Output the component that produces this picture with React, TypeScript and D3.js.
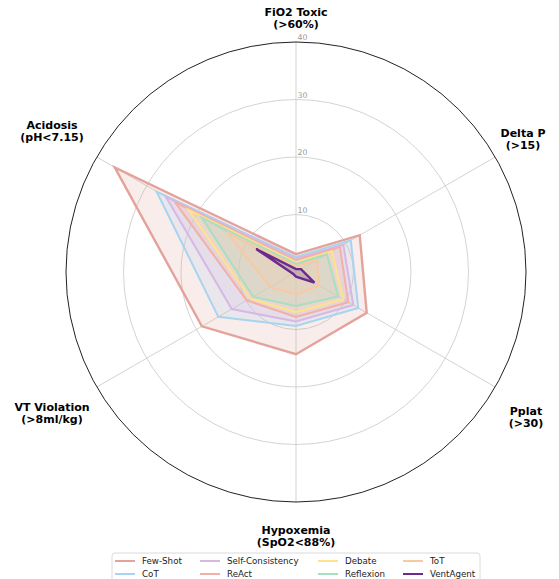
import React from "react";
import * as d3 from "d3";

const axes = [
  ["FiO2 Toxic", "(>60%)"],
  ["Delta P", "(>15)"],
  ["Pplat", "(>30)"],
  ["Hypoxemia", "(SpO2<88%)"],
  ["VT Violation", "(>8ml/kg)"],
  ["Acidosis", "(pH<7.15)"],
];
const ticks = [10, 20, 30, 40];
const seriesNames = ["Few-Shot", "CoT", "Self-Consistency", "ReAct", "Debate", "Reflexion", "ToT", "VentAgent"];
const seriesColors = ["#e3a39b", "#a9d4ef", "#d6b8e4", "#f2b0a6", "#fde38c", "#a6dfc1", "#f8c9a2", "#6a2a8e"];
const fewShot = [3.1, 12.8, 14.2, 14.3, 18.9, 36.4];
const cot = [2.6, 11.0, 12.5, 9.4, 15.6, 28.0];
const selfConsistency = [2.3, 9.5, 11.5, 8.6, 12.9, 26.1];
const react = [2.0, 8.8, 10.5, 7.8, 9.9, 24.3];
const debate = [1.7, 7.2, 9.5, 7.0, 9.2, 21.6];
const reflexion = [1.4, 6.2, 8.5, 5.9, 8.6, 18.9];
const tot = [1.0, 4.2, 4.7, 3.9, 5.2, 13.9];
const ventAgent = [0.5, 1.0, 3.7, 0.8, 0.6, 8.0];
const seriesValues = [fewShot, cot, selfConsistency, react, debate, reflexion, tot, ventAgent];

export default function App() {
  const W = 559, H = 579;
  const cx = 296, cy = 272;
  const R = 230;
  const r = d3.scaleLinear().domain([0, 40]).range([0, R]);
  const angle = d3.scaleLinear().domain([0, axes.length]).range([0, 2 * Math.PI]);
  const line = d3
    .lineRadial<number>()
    .angle((_, i) => angle(i))
    .radius((v) => r(v))
    .curve(d3.curveLinearClosed);
  const font = "DejaVu Sans, sans-serif";
  const fs = 11;
  const lh = 12;
  // horizontal / vertical label distances from the centre, by side
  const labelDX = (s: number) => (s > 0.1 ? 227 + (s > 0 ? 0 : 0) : s < -0.1 ? -244 : 0);
  const labelFirstLineY = (i: number, c: number) => {
    if (c > 0.9) return -260;
    if (c < -0.9) return 258;
    if (c > 0) return -139 - (Math.sin(angle(i)) < 0 ? 8 : 0) ;
    return 135 + (Math.sin(angle(i)) > 0 ? 4 : 0);
  };

  return (
    <svg width={W} height={H} style={{ position: "absolute", left: 0, top: 0 }} fontFamily={font}>
      <rect width={W} height={H} fill="#fff" />
      <g transform={`translate(${cx},${cy})`}>
        {ticks.slice(0, -1).map((t) => (
          <circle key={t} r={r(t)} fill="none" stroke="#c8c8c8" strokeWidth={0.8} />
        ))}
        {axes.map((_, i) => {
          const a = angle(i);
          return (
            <line key={i} x1={0} y1={0} x2={R * Math.sin(a)} y2={-R * Math.cos(a)} stroke="#c8c8c8" strokeWidth={0.8} />
          );
        })}
        <circle r={R} fill="none" stroke="#222" strokeWidth={1} />
        {seriesValues.map((vals, k) => (
          <path
            key={k}
            d={line(vals) || ""}
            fill={seriesColors[k]}
            fillOpacity={0.2}
            stroke={seriesColors[k]}
            strokeWidth={k === 0 || k === 7 ? 2.4 : 2}
            strokeLinejoin="miter"
          />
        ))}
        {ticks.map((t) => (
          <text key={t} x={1.5} y={-r(t) - 2} fontSize={7.8} fill="#999">
            {t}
          </text>
        ))}
        {axes.map((lab, i) => {
          const a = angle(i);
          const s = Math.sin(a), c = Math.cos(a);
          const bx = labelDX(s) + (i === 2 ? 3 : 0);
          const y1 = labelFirstLineY(i, c);
          return (
            <text key={i} textAnchor="middle" fontSize={fs} fontWeight="bold" fill="#000">
              {lab.map((l, j) => (
                <tspan key={j} x={bx} y={y1 + lh * j + 4}>
                  {l}
                </tspan>
              ))}
            </text>
          );
        })}
      </g>
      <g>
        <rect x={112} y={553} width={368} height={40} rx={3} fill="#fff" fillOpacity={0.8} stroke="#d0d0d0" strokeWidth={0.8} />
        {seriesNames.map((n, k) => {
          const colX = [115, 200, 318, 403][Math.floor(k / 2)];
          const rowY = [561, 574][k % 2];
          return (
            <g key={n}>
              <line x1={colX} x2={colX + 20} y1={rowY} y2={rowY} stroke={seriesColors[k]} strokeWidth={2} />
              <text x={colX + 27} y={rowY + 3} fontSize={8.7} fill="#222">
                {n}
              </text>
            </g>
          );
        })}
      </g>
    </svg>
  );
}
